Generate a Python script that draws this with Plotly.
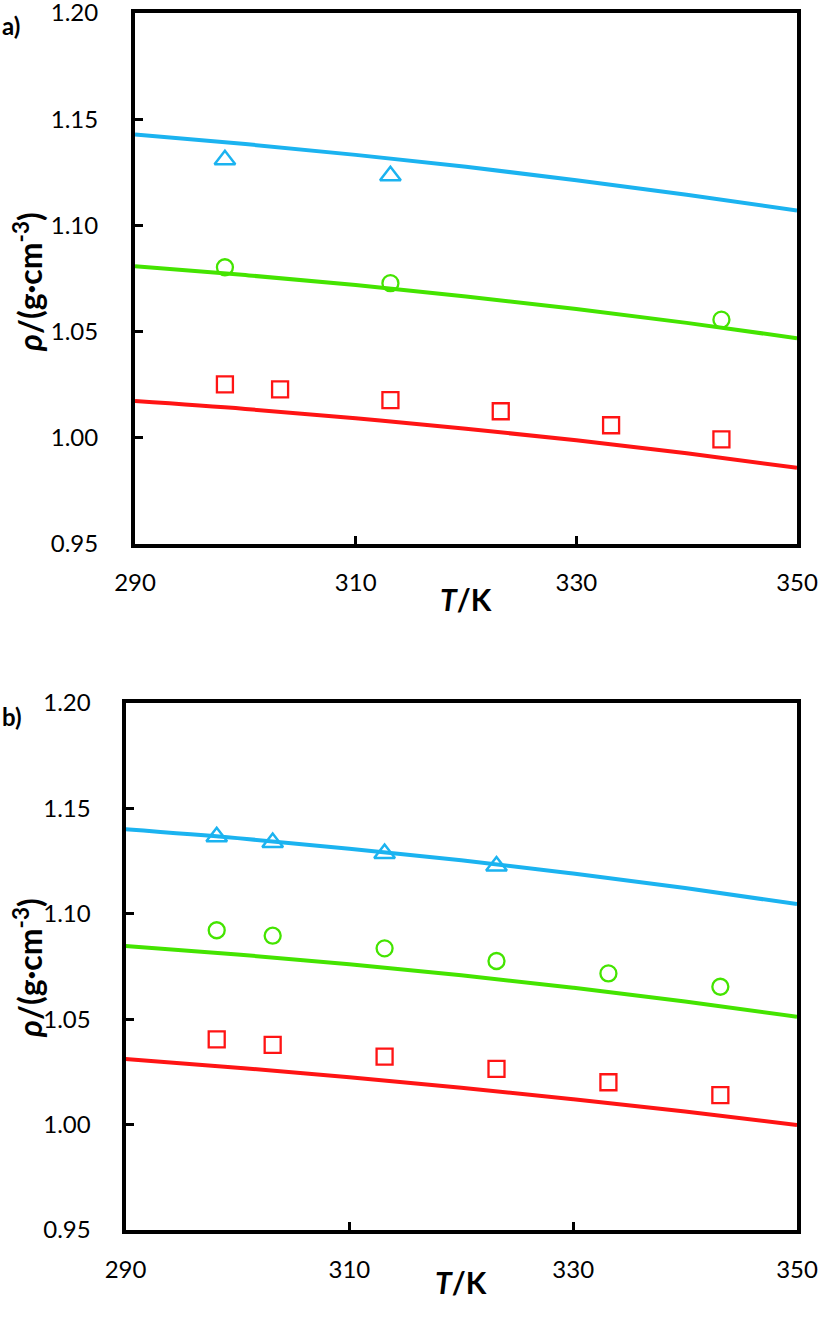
import plotly.graph_objects as go

# ---------- data ----------
T_line = [290, 300, 310, 320, 330, 340, 350]

# panel a) model lines
a_line_blue = [1.1428, 1.1383, 1.1332, 1.1276, 1.1213, 1.1144, 1.1070]
a_line_green = [1.0808, 1.0766, 1.0719, 1.0665, 1.0606, 1.0541, 1.0469]
a_line_red = [1.0173, 1.0136, 1.0092, 1.0043, 0.9988, 0.9927, 0.9859]

# panel a) experimental points
a_T_tri = [298.15, 313.15]
a_tri = [1.1309, 1.1234]
a_T_circ = [298.15, 313.15, 343.15]
a_circ = [1.0803, 1.0728, 1.0556]
a_T_sq = [298.15, 303.15, 313.15, 323.15, 333.15, 343.15]
a_sq = [1.0252, 1.0228, 1.0177, 1.0125, 1.0059, 0.9993]

# panel b) model lines
b_line_blue = [1.1401, 1.1359, 1.1309, 1.1254, 1.1191, 1.1122, 1.1046]
b_line_green = [1.0847, 1.0807, 1.0761, 1.0708, 1.0649, 1.0584, 1.0512]
b_line_red = [1.0311, 1.0270, 1.0225, 1.0175, 1.0120, 1.0062, 0.9998]

# panel b) experimental points
b_T_tri = [298.15, 303.15, 313.15, 323.15]
b_tri = [1.1365, 1.1338, 1.1286, 1.1227]
b_T_circ = [298.15, 303.15, 313.15, 323.15, 333.15, 343.15]
b_circ = [1.0922, 1.0896, 1.0836, 1.0776, 1.0717, 1.0654]
b_T_sq = [298.15, 303.15, 313.15, 323.15, 333.15, 343.15]
b_sq = [1.0404, 1.0378, 1.0322, 1.0264, 1.0201, 1.0140]

x_ticks = [290, 310, 330, 350]
y_ticks = [0.95, 1.00, 1.05, 1.10, 1.15, 1.20]
y_ticklabels = ["0.95", "1.00", "1.05", "1.10", "1.15", "1.20"]

BLUE = "#1BB3F0"
GREEN = "#44E400"
RED = "#FF1414"
FONT = "Lato"

fig = go.Figure()


def add_panel(xa, ya, lb, lg, lr, Tt, vt, Tc, vc, Ts, vs):
    for vals, col in ((lb, BLUE), (lg, GREEN), (lr, RED)):
        fig.add_trace(go.Scatter(x=T_line, y=vals, mode="lines",
                                 line=dict(color=col, width=4, shape="spline"),
                                 xaxis=xa, yaxis=ya, showlegend=False))
    fig.add_trace(go.Scatter(x=Tt, y=vt, mode="markers",
                             marker=dict(symbol="triangle-up-open", size=18, color=BLUE,
                                         line=dict(width=2.5, color=BLUE)),
                             xaxis=xa, yaxis=ya, showlegend=False))
    fig.add_trace(go.Scatter(x=Tc, y=vc, mode="markers",
                             marker=dict(symbol="circle-open", size=16, color=GREEN,
                                         line=dict(width=2.3, color=GREEN)),
                             xaxis=xa, yaxis=ya, showlegend=False))
    fig.add_trace(go.Scatter(x=Ts, y=vs, mode="markers",
                             marker=dict(symbol="square-open", size=16, color=RED,
                                         line=dict(width=2.3, color=RED)),
                             xaxis=xa, yaxis=ya, showlegend=False))


add_panel("x", "y", a_line_blue, a_line_green, a_line_red,
          a_T_tri, a_tri, a_T_circ, a_circ, a_T_sq, a_sq)
add_panel("x2", "y2", b_line_blue, b_line_green, b_line_red,
          b_T_tri, b_tri, b_T_circ, b_circ, b_T_sq, b_sq)

W, H = 820, 1330


def px_x(p):
    return p / W


def px_y(p):
    return 1 - p / H


axis_common = dict(showline=True, linecolor="black", linewidth=4, mirror=True,
                   ticks="inside", ticklen=8, tickwidth=3, tickcolor="black",
                   showgrid=False, zeroline=False, automargin=False,
                   ticklabeloverflow="allow",
                   tickfont=dict(family=FONT, size=24, color="black"))

xa = dict(axis_common, range=[290, 350], tickvals=x_ticks, ticktext=[str(v) for v in x_ticks],
          ticklabelstandoff=14)
ya = dict(axis_common, range=[0.95, 1.20], tickvals=y_ticks, ticktext=y_ticklabels,
          ticklabelstandoff=28)

fig.update_layout(
    template="none",
    width=W, height=H, margin=dict(l=0, r=0, t=0, b=0, pad=0, autoexpand=False),
    paper_bgcolor="white", plot_bgcolor="white",
    xaxis=dict(xa, domain=[px_x(135), px_x(797)], anchor="y"),
    yaxis=dict(ya, domain=[px_y(544), px_y(13)], anchor="x"),
    xaxis2=dict(xa, domain=[px_x(125.5), px_x(797)], anchor="y2", ticklabelstandoff=15),
    yaxis2=dict(ya, domain=[px_y(1230), px_y(703)], anchor="x2", ticklabelstandoff=26),
)

ytitle = "<b><i>ρ</i>/(g·cm<sup>-3</sup>)</b>"
xtitle = "<b><i>T</i>/K</b>"
ann = [
    dict(text="<b>a)</b>", x=px_x(0), y=px_y(25), xanchor="left", yanchor="middle", size=24),
    dict(text="<b>b)</b>", x=px_x(0), y=px_y(716), xanchor="left", yanchor="middle", size=24),
    dict(text=ytitle, x=px_x(28), y=px_y(282), textangle=-90, xanchor="center", yanchor="middle", size=32),
    dict(text=ytitle, x=px_x(28), y=px_y(968), textangle=-90, xanchor="center", yanchor="middle", size=32),
    dict(text=xtitle, x=px_x(466), y=px_y(599), xanchor="center", yanchor="middle", size=30),
    dict(text=xtitle, x=px_x(461), y=px_y(1282), xanchor="center", yanchor="middle", size=30),
]
for a in ann:
    sz = a.pop("size")
    a.update(xref="paper", yref="paper", showarrow=False,
             font=dict(family=FONT, size=sz, color="black"))
fig.update_layout(annotations=ann)

fig.write_html("out.html",
               config={"displayModeBar": False},
               post_script="document.body.style.margin='0';"
                           "document.documentElement.style.overflow='hidden';")
